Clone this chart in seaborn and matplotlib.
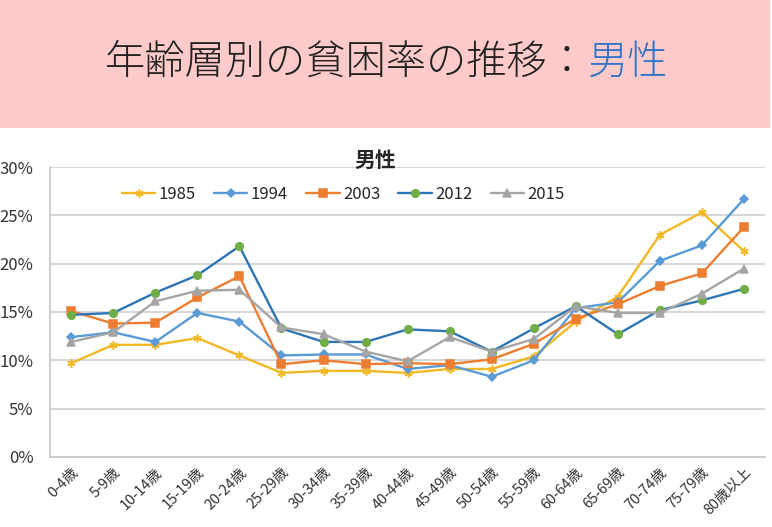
"""
年齢層別の貧困率の推移（男性）の折れ線グラフ
"""

import matplotlib
matplotlib.use('Agg')
import matplotlib.pyplot as plt
from matplotlib.patches import Rectangle
from matplotlib.ticker import FuncFormatter
import numpy as np
import pandas as pd
import seaborn as sns

age_groups = ["0-4歳", "5-9歳", "10-14歳", "15-19歳", "20-24歳", "25-29歳",
              "30-34歳", "35-39歳", "40-44歳", "45-49歳", "50-54歳", "55-59歳",
              "60-64歳", "65-69歳", "70-74歳", "75-79歳", "80歳以上"]
years = ["1985", "1994", "2003", "2012", "2015"]

rate_1985 = [9.7, 11.6, 11.6, 12.3, 10.5, 8.7, 8.9, 8.9, 8.7, 9.1, 9.1, 10.4,
             14.0, 16.6, 23.0, 25.3, 21.3]
rate_1994 = [12.4, 12.9, 11.9, 14.9, 14.0, 10.5, 10.6, 10.6, 9.1, 9.5, 8.3, 10.0,
             15.4, 16.0, 20.3, 21.9, 26.7]
rate_2003 = [15.1, 13.8, 13.9, 16.5, 18.7, 9.6, 10.0, 9.6, 9.7, 9.6, 10.1, 11.7,
             14.3, 15.8, 17.7, 19.0, 23.8]
rate_2012 = [14.7, 14.9, 17.0, 18.8, 21.8, 13.3, 11.9, 11.9, 13.2, 13.0, 10.9, 13.3,
             15.6, 12.7, 15.2, 16.2, 17.4]
rate_2015 = [11.9, 12.9, 16.1, 17.2, 17.3, 13.4, 12.7, 10.9, 9.9, 12.4, 10.9, 12.2,
             15.6, 14.9, 14.9, 16.9, 19.5]

rates = [rate_1985, rate_1994, rate_2003, rate_2012, rate_2015]

# 線の色・マーカー
line_colors = ['#F2B824', '#5B9BD5', '#ED7D31', '#2E75B6', '#A5A5A5']
marker_colors = ['#F2B824', '#5B9BD5', '#ED7D31', '#70AD47', '#A5A5A5']
markers = [(6, 2, 0), 'D', 's', 'o', '^']
marker_sizes = [6, 3.8, 5.5, 5.5, 5.5]

rows = []
for year, vals in zip(years, rates):
    for i, (age, v) in enumerate(zip(age_groups, vals)):
        rows.append({"year": year, "pos": i, "age": age, "rate": v})
df = pd.DataFrame(rows)

sns.set_theme(style="white")
plt.rcParams['font.family'] = ['Noto Sans CJK JP', 'DejaVu Sans']

fig = plt.figure(figsize=(7.72, 5.27), dpi=100)

# 上部のピンク帯
fig.patches.append(Rectangle((0, 0.757), 0.998, 0.243, transform=fig.transFigure,
                             facecolor='#FFCACA', edgecolor='none', zorder=0))
fig.text(0.761, 0.88, "年齢層別の貧困率の推移：", ha='right', va='center',
         fontsize=29, color='#222222', weight='light')
fig.text(0.761, 0.88, "男性", ha='left', va='center',
         fontsize=29, color='#2E75C8', weight='light')

ax = fig.add_axes([0.065, 0.133, 0.926, 0.550])

for year, lc, mc, mk, ms in zip(years, line_colors, marker_colors, markers, marker_sizes):
    sub = df[df["year"] == year]
    sns.lineplot(data=sub, x="pos", y="rate", ax=ax, color=lc, linewidth=1.7,
                 marker=mk, markersize=ms, markerfacecolor=mc,
                 markeredgecolor=mc, markeredgewidth=1.1, label=year)

ax.set_xlim(-0.5, len(age_groups) - 0.5)
ax.set_ylim(0, 30)
ax.set_yticks(np.arange(0, 31, 5))
ax.yaxis.set_major_formatter(FuncFormatter(lambda v, _: f"{v:.0f}%"))
ax.set_xticks(range(len(age_groups)))
ax.set_xticklabels(age_groups, rotation=45, ha='right', rotation_mode='anchor',
                   fontsize=10.5, color='#333333')
ax.tick_params(axis='y', labelsize=12, labelcolor='#333333', length=0, pad=12)
ax.tick_params(axis='x', length=0, pad=6)
ax.set_xlabel("")
ax.set_ylabel("")
ax.grid(axis='y', color='#D0D0D0', linewidth=1.2)
ax.set_axisbelow(True)
for side in ['top', 'right']:
    ax.spines[side].set_visible(False)
ax.spines['left'].set_color('#C8C8C8')
ax.spines['bottom'].set_color('#C8C8C8')

ax.set_title("男性", fontsize=15, weight='bold', pad=0, x=0.455)

ax.legend(loc='center', bbox_to_anchor=(0.41, 0.905), ncol=5, frameon=False,
          fontsize=12, handlelength=2.0, columnspacing=1.1, handletextpad=0.2)

plt.savefig("out.png", dpi=100)
plt.close()
